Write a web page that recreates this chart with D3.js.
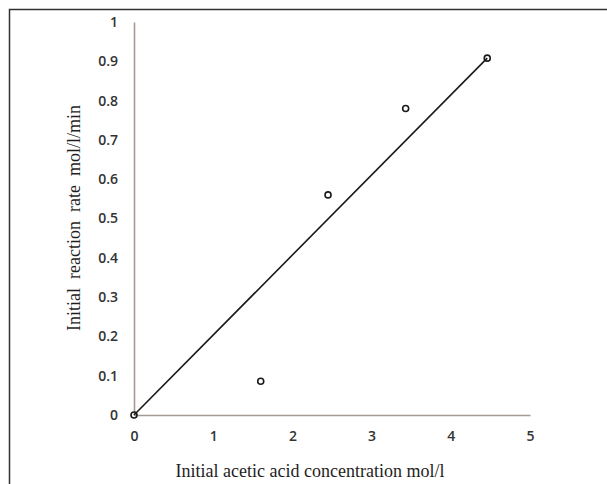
<!DOCTYPE html>
<html>
<head>
<meta charset="utf-8">
<script src="https://cdn.jsdelivr.net/npm/d3@7"></script>
<style>
  body { margin: 0; background: #fff; }
  svg { display: block; }
  .tick text { font-family: "Open Sans", Lato, sans-serif; font-size: 14px; font-weight: 600; fill: #333; }
  .title { font-family: "Liberation Serif", "DejaVu Serif", serif; font-size: 18px; fill: #1e1e1e; }
</style>
</head>
<body>
<div id="chart"></div>
<script>
// data
const concentration = [0, 1.6, 2.45, 3.43, 4.46];
const rate = [0, 0.086, 0.56, 0.78, 0.908];
const fitLine = [[0, 0], [4.46, 0.908]];
const xTicks = [0, 1, 2, 3, 4, 5];
const yTicks = [0, 0.1, 0.2, 0.3, 0.4, 0.5, 0.6, 0.7, 0.8, 0.9, 1];

const width = 607;
const height = 484;

const svg = d3.select('#chart')
    .append('svg')
    .attr('width', width)
    .attr('height', height);

// frame (top and left edges only)
svg.append('path')
    .attr('d', `M9.5,${height} L9.5,9.5 L${width},9.5`)
    .attr('fill', 'none')
    .attr('stroke', '#333')
    .attr('stroke-width', 1.5);

const x = d3.scaleLinear().domain([0, 5]).range([134, 530]);
const y = d3.scaleLinear().domain([0, 1]).range([415, 22]);

// x axis
svg.append('g')
    .attr('transform', `translate(0,${y(0)})`)
    .call(d3.axisBottom(x).tickValues(xTicks).tickFormat(d3.format('d')).tickSize(0).tickPadding(16));

// y axis
svg.append('g')
    .attr('transform', `translate(${x(0)},0)`)
    .call(d3.axisLeft(y).tickValues(yTicks).tickFormat(d => d === 0 || d === 1 ? d : d3.format('.1f')(d)).tickSize(0).tickPadding(16));

svg.selectAll('.domain')
    .attr('stroke', '#a39a94')
    .attr('stroke-width', 1.6);

// axis titles
svg.append('text')
    .classed('title', true)
    .attr('x', 310)
    .attr('y', 477)
    .attr('text-anchor', 'middle')
    .text('Initial acetic acid concentration mol/l');

svg.append('text')
    .classed('title', true)
    .attr('transform', `translate(80,${218}) rotate(-90)`)
    .attr('text-anchor', 'middle')
    .style('white-space', 'pre')
    .text('Initial  reaction  rate  mol/l/min');

// trend line
svg.append('line')
    .attr('x1', x(fitLine[0][0]))
    .attr('y1', y(fitLine[0][1]))
    .attr('x2', x(fitLine[1][0]))
    .attr('y2', y(fitLine[1][1]))
    .attr('stroke', '#1a1a1a')
    .attr('stroke-width', 1.6);

// points
svg.append('g')
    .selectAll('circle')
    .data(concentration.map((c, i) => ({ c: c, r: rate[i] })))
    .enter()
    .append('circle')
    .attr('cx', d => x(d.c))
    .attr('cy', d => y(d.r))
    .attr('r', 3)
    .attr('fill', 'none')
    .attr('stroke', '#1a1a1a')
    .attr('stroke-width', 1.6);
</script>
</body>
</html>
